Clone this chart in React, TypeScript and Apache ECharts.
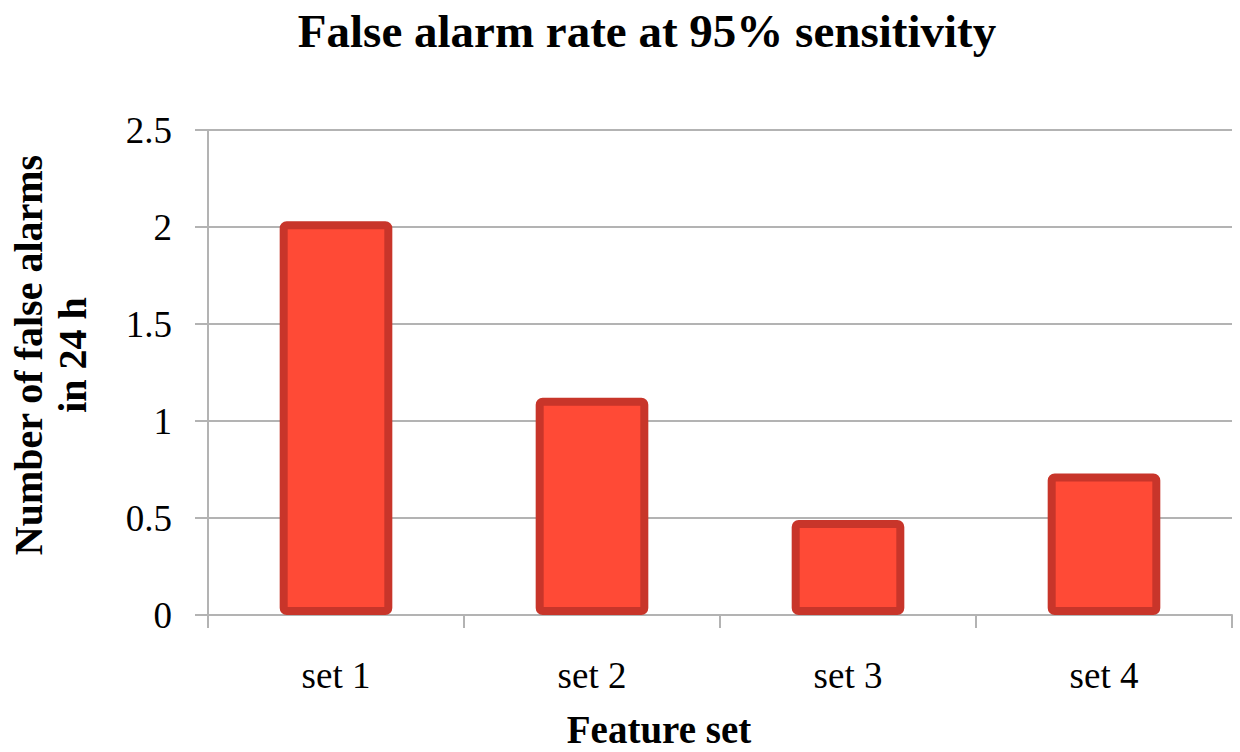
import React, { useEffect, useRef } from "react";
import * as echarts from "echarts";

const categories = ["set 1", "set 2", "set 3", "set 4"];
const falseAlarms = [2.03, 1.12, 0.49, 0.73];
const yTicks = { min: 0, max: 2.5, interval: 0.5 };
const titleText = "False alarm rate at 95% sensitivity";
const xName = "Feature set";
const yNameLines = ["Number of false alarms", "in 24 h"];

const FONT = "'Liberation Serif', 'Times New Roman', serif";

export default function App() {
  const ref = useRef<HTMLDivElement>(null);
  useEffect(() => {
    if (!ref.current) return;
    const chart = echarts.init(ref.current, null, { renderer: "svg" });
    chart.setOption({
      animation: false,
      backgroundColor: "#ffffff",
      title: {
        text: titleText,
        left: 642,
        top: 2,
        textAlign: "center",
        textStyle: { fontFamily: FONT, fontWeight: "bold", fontSize: 47, color: "#000" },
      },
      grid: { left: 208, right: 8, top: 130, bottom: 137, containLabel: false },
      xAxis: {
        type: "category",
        data: categories,
        axisLine: { show: true, lineStyle: { color: "#b3b3b3", width: 2 } },
        axisTick: { show: true, length: 13, lineStyle: { color: "#b3b3b3", width: 2 } },
        axisLabel: { fontFamily: FONT, fontSize: 37, color: "#000", margin: 42 },
        splitLine: { show: false },
      },
      yAxis: {
        type: "value",
        min: yTicks.min,
        max: yTicks.max,
        interval: yTicks.interval,
        axisLine: { show: true, lineStyle: { color: "#b3b3b3", width: 2 } },
        axisTick: { show: true, length: 13, lineStyle: { color: "#b3b3b3", width: 2 } },
        axisLabel: { fontFamily: FONT, fontSize: 37, color: "#000", margin: 36 },
        splitLine: { show: true, lineStyle: { color: "#b3b3b3", width: 2 } },
      },
      graphic: [
        {
          type: "text",
          x: 659,
          y: 729,
          style: {
            text: xName,
            font: `bold 39px ${FONT}`,
            fill: "#000",
            align: "center",
            verticalAlign: "middle",
          },
        },
        {
          type: "text",
          x: 50,
          y: 355,
          rotation: Math.PI / 2,
          style: {
            text: yNameLines.join("\n"),
            font: `bold 40px ${FONT}`,
            fill: "#000",
            align: "center",
            verticalAlign: "middle",
            lineHeight: 44,
          },
        },
      ],
      series: [
        {
          type: "bar",
          data: falseAlarms,
          barWidth: "44%",
          itemStyle: {
            color: "#ff4a36",
            borderColor: "#c8352a",
            borderWidth: 8,
            borderRadius: 3,
          },
        },
      ],
    });
    return () => chart.dispose();
  }, []);
  return (
    <div
      ref={ref}
      style={{ position: "fixed", left: 0, top: 0, width: 1240, height: 752 }}
    />
  );
}
